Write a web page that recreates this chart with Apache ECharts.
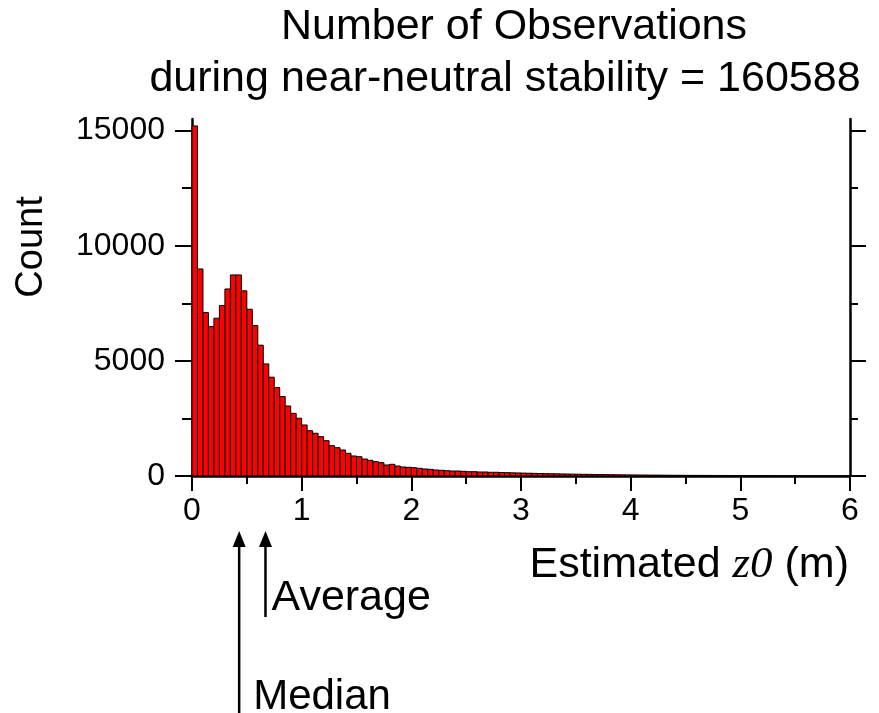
<!DOCTYPE html>
<html>
<head>
<meta charset="utf-8">
<script src="https://cdn.jsdelivr.net/npm/echarts@6/dist/echarts.min.js"></script>
<style>
  html, body { margin: 0; padding: 0; background: #ffffff; }
  #chart { width: 879px; height: 713px; }
</style>
</head>
<body>
<div id="chart"></div>
<script>
// Histogram of estimated roughness length z0, bins of 0.05 m from 0 to 6 m
const binWidth = 0.05;
const counts = [
  15200, 8990, 7095, 6487, 6850, 7400, 8120, 8730, 8730, 8040,
  7240, 6530, 5680, 4865, 4290, 3840, 3450, 3040, 2720, 2507,
  2215, 1968, 1855, 1707, 1533, 1316, 1229, 1129, 986, 869,
  838, 738, 682, 621, 578, 478, 508, 434, 391, 378,
  360, 334, 304, 291, 261, 248, 230, 217, 217, 204,
  187, 187, 174, 174, 161, 161, 150, 145, 138, 132,
  125, 120, 114, 108, 103, 98, 94, 90, 86, 82,
  78, 74, 70, 66, 63, 60, 57, 54, 51, 48,
  46, 44, 42, 40, 38, 36, 34, 32, 31, 30,
  28, 27, 26, 25, 24, 23, 22, 21, 20, 19,
  18, 17, 16, 15, 15, 14, 13, 13, 12, 12,
  11, 11, 10, 10, 9, 9, 8, 8, 8, 7
];

const yMajorTicks = [0, 5000, 10000, 15000];
const yMinorTicks = [2500, 7500, 12500];

// statistics marked below the axis
const markerValues = [0.43, 0.67];
const markerLabels = ['Median', 'Average'];

const titleLines = ['Number of Observations', 'during near-neutral stability = 160588'];

const binData = counts.map((c, i) => [i * binWidth, (i + 1) * binWidth, c]);

const chart = echarts.init(document.getElementById('chart'), null, { renderer: 'canvas' });

const sans = 'Liberation Sans, Arial, Helvetica, sans-serif';
const black = '#000000';

function yAxisBase(position, ticks, len, showLine) {
  return {
    type: 'value',
    position: position,
    min: 0,
    max: 15500,
    splitLine: { show: false },
    axisLine: { show: showLine, lineStyle: { color: black, width: 2.5 } },
    axisTick: { show: true, customValues: ticks, length: len, lineStyle: { color: black, width: 2 } },
    axisLabel: { show: false }
  };
}

const leftMajor = yAxisBase('left', yMajorTicks, 17, true);
leftMajor.axisLabel = {
  show: true,
  customValues: yMajorTicks,
  formatter: v => String(v),
  margin: 27,
  fontSize: 32,
  fontFamily: sans,
  color: black
};

chart.setOption({
  animation: false,
  backgroundColor: '#ffffff',
  grid: { left: 192, right: 29, top: 119, bottom: 237, containLabel: false },
  xAxis: {
    type: 'value',
    min: 0,
    max: 6,
    interval: 1,
    splitLine: { show: false },
    axisLine: { show: true, lineStyle: { color: black, width: 2.5 } },
    axisTick: { show: true, length: 15, lineStyle: { color: black, width: 2 } },
    minorTick: { show: true, splitNumber: 2, length: 8, lineStyle: { color: black, width: 2 } },
    minorSplitLine: { show: false },
    axisLabel: { margin: 19, fontSize: 32, fontFamily: sans, color: black, formatter: v => String(v) }
  },
  yAxis: [
    leftMajor,
    yAxisBase('left', yMinorTicks, 10, false),
    yAxisBase('right', yMajorTicks, 16, true),
    yAxisBase('right', yMinorTicks, 8, false)
  ],
  series: [{
    type: 'custom',
    xAxisIndex: 0,
    yAxisIndex: 0,
    data: binData,
    encode: { x: [0, 1], y: 2 },
    renderItem: function (params, api) {
      const top = api.coord([api.value(0), api.value(2)]);
      const base = api.coord([api.value(1), 0]);
      return {
        type: 'rect',
        shape: { x: top[0], y: top[1], width: base[0] - top[0], height: base[1] - top[1] },
        style: { fill: '#ff0000', stroke: black, lineWidth: 1 }
      };
    }
  }]
});

// Titles, axis names and the arrows marking median and average
const graphics = [
  {
    type: 'text', x: 514, y: 27,
    style: { text: titleLines[0], fontSize: 43, fontFamily: sans, fill: black, align: 'center', verticalAlign: 'middle' }
  },
  {
    type: 'text', x: 505, y: 79,
    style: { text: titleLines[1], fontSize: 43, fontFamily: sans, fill: black, align: 'center', verticalAlign: 'middle' }
  },
  {
    type: 'text', x: 32, y: 247, rotation: Math.PI / 2,
    style: { text: 'Count', fontSize: 38, fontFamily: sans, fill: black, align: 'center', verticalAlign: 'middle' }
  },
  {
    type: 'text', x: 849, y: 565,
    style: {
      text: '{a|Estimated }{b|z0}{a| (m)}',
      align: 'right', verticalAlign: 'middle',
      rich: {
        a: { fontSize: 43, fontFamily: sans, fill: black, color: black },
        b: { fontSize: 45, fontFamily: 'Liberation Serif, Times New Roman, serif', fontStyle: 'italic', fill: black, color: black }
      }
    }
  }
];

const tipY = 531;
const lineEnds = [713, 617];
const labelOffsets = [[14, 697], [6, 598]];
const labelSizes = [42, 43];
markerValues.forEach((v, i) => {
  const px = chart.convertToPixel({ xAxisIndex: 0 }, v);
  graphics.push({
    type: 'line',
    shape: { x1: px, y1: tipY + 12, x2: px, y2: lineEnds[i] },
    style: { stroke: black, lineWidth: 2.5 }
  });
  graphics.push({
    type: 'polygon',
    shape: { points: [[px, tipY], [px - 6.5, tipY + 16], [px + 6.5, tipY + 16]] },
    style: { fill: black }
  });
  graphics.push({
    type: 'text', x: px + labelOffsets[i][0], y: labelOffsets[i][1],
    style: { text: markerLabels[i], fontSize: labelSizes[i], fontFamily: sans, fill: black, align: 'left', verticalAlign: 'middle' }
  });
});

chart.setOption({ graphic: graphics });
</script>
</body>
</html>
